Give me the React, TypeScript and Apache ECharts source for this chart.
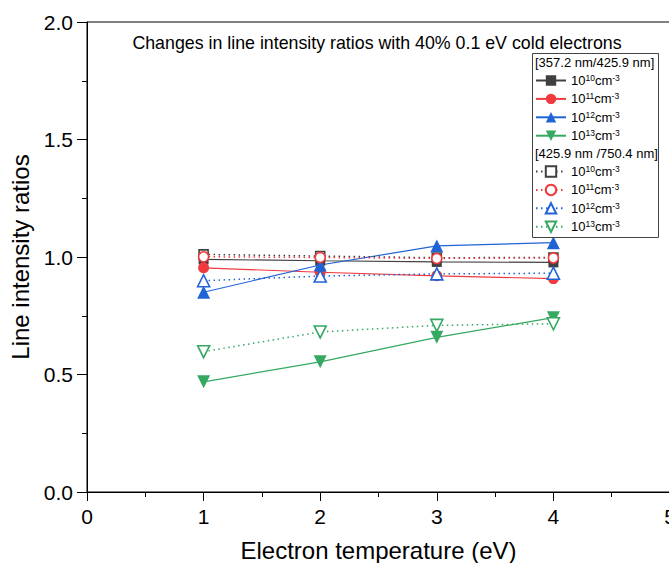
import React, { useEffect, useRef } from "react";
import * as echarts from "echarts";

const temperatures = [1, 2, 3, 4];
const densities = ["10", "11", "12", "13"];
// [357.2 nm/425.9 nm] ratios (solid)
const ratioA10 = [0.99, 0.984, 0.979, 0.977];
const ratioA11 = [0.954, 0.935, 0.92, 0.908];
const ratioA12 = [0.85, 0.966, 1.047, 1.061];
const ratioA13 = [0.469, 0.554, 0.658, 0.742];
// [425.9 nm /750.4 nm] ratios (dotted)
const ratioB10 = [1.011, 1.004, 0.997, 0.998];
const ratioB11 = [1.001, 0.998, 0.994, 0.996];
const ratioB12 = [0.899, 0.919, 0.928, 0.931];
const ratioB13 = [0.597, 0.681, 0.709, 0.716];
const xTicks = [0, 1, 2, 3, 4, 5];
const yTicks = [0, 0.5, 1.0, 1.5, 2.0];

const colors = ["#404040", "#f03a3f", "#1f64d6", "#35a862"];
const downTri = "path://M0,0 L10,0 L5,9 Z";
const symbols = ["rect", "circle", "triangle", downTri];
const symbolSizes = [10, 11, 13, 13];
const FONT = "Liberation Sans, Arial, sans-serif";

export default function App() {
  const ref = useRef<HTMLDivElement>(null);
  useEffect(() => {
    document.body.style.overflow = "hidden";
    const chart = echarts.init(ref.current!, null, { renderer: "svg" });
    const solidData = [ratioA10, ratioA11, ratioA12, ratioA13];
    const dotData = [ratioB10, ratioB11, ratioB12, ratioB13];
    const series: any[] = [];
    densities.forEach((d, i) => {
      series.push({
        name: "A" + d,
        type: "line",
        data: temperatures.map((t, k) => [t, solidData[i][k]]),
        symbol: symbols[i],
        symbolSize: symbolSizes[i],
        showAllSymbol: true,
        lineStyle: { color: colors[i], width: 1.2, type: "solid" },
        itemStyle: { color: colors[i], borderColor: colors[i], borderWidth: 0 },
        z: 2,
      });
    });
    densities.forEach((d, i) => {
      series.push({
        name: "B" + d,
        type: "line",
        data: temperatures.map((t, k) => [t, dotData[i][k]]),
        symbol: symbols[i],
        symbolSize: symbolSizes[i] - 1,
        showAllSymbol: true,
        lineStyle: { color: colors[i], width: 1.5, type: [1.5, 3.5] },
        itemStyle: { color: "#ffffff", borderColor: colors[i], borderWidth: 1.6 },
        z: 3,
      });
    });
    const legendFmt = (name: string) => `10{sup|${name.slice(1)}}cm{sup|-3}`;
    const legendText = {
      fontSize: 13,
      color: "#000",
      fontFamily: FONT,
      lineHeight: 14,
      rich: {
        sup: { fontSize: 8.5, verticalAlign: "top", lineHeight: 9, color: "#000", fontFamily: FONT },
      },
    };
    const option: any = {
      animation: false,
      backgroundColor: "#fff",
      textStyle: { fontFamily: FONT },
      grid: {
        left: 87,
        top: 22,
        width: 583,
        height: 470,
        outerBoundsMode: "none",
        containLabel: false,
        show: true,
        borderColor: "#000",
        borderWidth: 1,
        backgroundColor: "transparent",
      },
      xAxis: {
        type: "value",
        min: xTicks[0],
        max: xTicks[xTicks.length - 1],
        interval: 1,
        name: "Electron temperature (eV)",
        nameLocation: "middle",
        nameGap: 46,
        nameTextStyle: { fontSize: 24, color: "#000", fontFamily: FONT },
        axisLine: { show: true, onZero: false, lineStyle: { color: "#000", width: 1 } },
        axisTick: { show: true, inside: false, length: 9, lineStyle: { color: "#000" } },
        minorTick: { show: true, splitNumber: 2, length: 5, lineStyle: { color: "#000" } },
        splitLine: { show: false },
        axisLabel: { fontSize: 21, color: "#000", margin: 14, showMaxLabel: true, fontFamily: FONT },
      },
      yAxis: {
        type: "value",
        min: yTicks[0],
        max: yTicks[yTicks.length - 1],
        interval: 0.5,
        name: "Line intensity ratios",
        nameLocation: "middle",
        nameGap: 46,
        nameTextStyle: { fontSize: 24, color: "#000", fontFamily: FONT },
        axisLine: { show: true, onZero: false, lineStyle: { color: "#000", width: 1 } },
        axisTick: { show: true, inside: false, length: 10, lineStyle: { color: "#000" } },
        minorTick: { show: true, splitNumber: 2, length: 5, lineStyle: { color: "#000" } },
        splitLine: { show: false },
        axisLabel: { fontSize: 21, color: "#000", margin: 14, fontFamily: FONT, formatter: (v: number) => v.toFixed(1) },
      },
      legend: [
        {
          data: densities.map((d) => "A" + d),
          orient: "vertical",
          left: 535,
          top: 73.5,
          padding: 0,
          itemWidth: 30,
          itemHeight: 13,
          itemGap: 4.4,
          formatter: legendFmt,
          textStyle: legendText,
          z: 5,
        },
        {
          data: densities.map((d) => "B" + d),
          orient: "vertical",
          left: 535,
          top: 164.5,
          padding: 0,
          itemWidth: 30,
          itemHeight: 13,
          itemGap: 4.4,
          formatter: legendFmt,
          textStyle: legendText,
          z: 5,
        },
      ],
      graphic: [
        {
          type: "rect",
          z: 4,
          shape: { x: 532.5, y: 53.5, width: 126, height: 184 },
          style: { fill: "#fff", stroke: "#444", lineWidth: 1 },
        },
        {
          type: "text",
          z: 5,
          x: 535,
          y: 62,
          style: { text: "[357.2 nm/425.9 nm]", fontSize: 13, fill: "#000", verticalAlign: "middle", fontFamily: FONT },
        },
        {
          type: "text",
          z: 5,
          x: 535,
          y: 153,
          style: { text: "[425.9 nm /750.4 nm]", fontSize: 13, fill: "#000", verticalAlign: "middle", fontFamily: FONT },
        },
        {
          type: "text",
          z: 5,
          x: 377,
          y: 43,
          style: { text: "Changes in line intensity ratios with 40% 0.1 eV cold electrons", fontSize: 17.8, fill: "#000", align: "center", verticalAlign: "middle", fontFamily: FONT },
        },
      ],
      series,
    };
    chart.setOption(option);
    return () => chart.dispose();
  }, []);
  return (
    <div style={{ position: "absolute", left: 0, top: 0, width: 669, height: 563, overflow: "hidden" }}>
      <div ref={ref} style={{ width: 669, height: 563 }} />
    </div>
  );
}
